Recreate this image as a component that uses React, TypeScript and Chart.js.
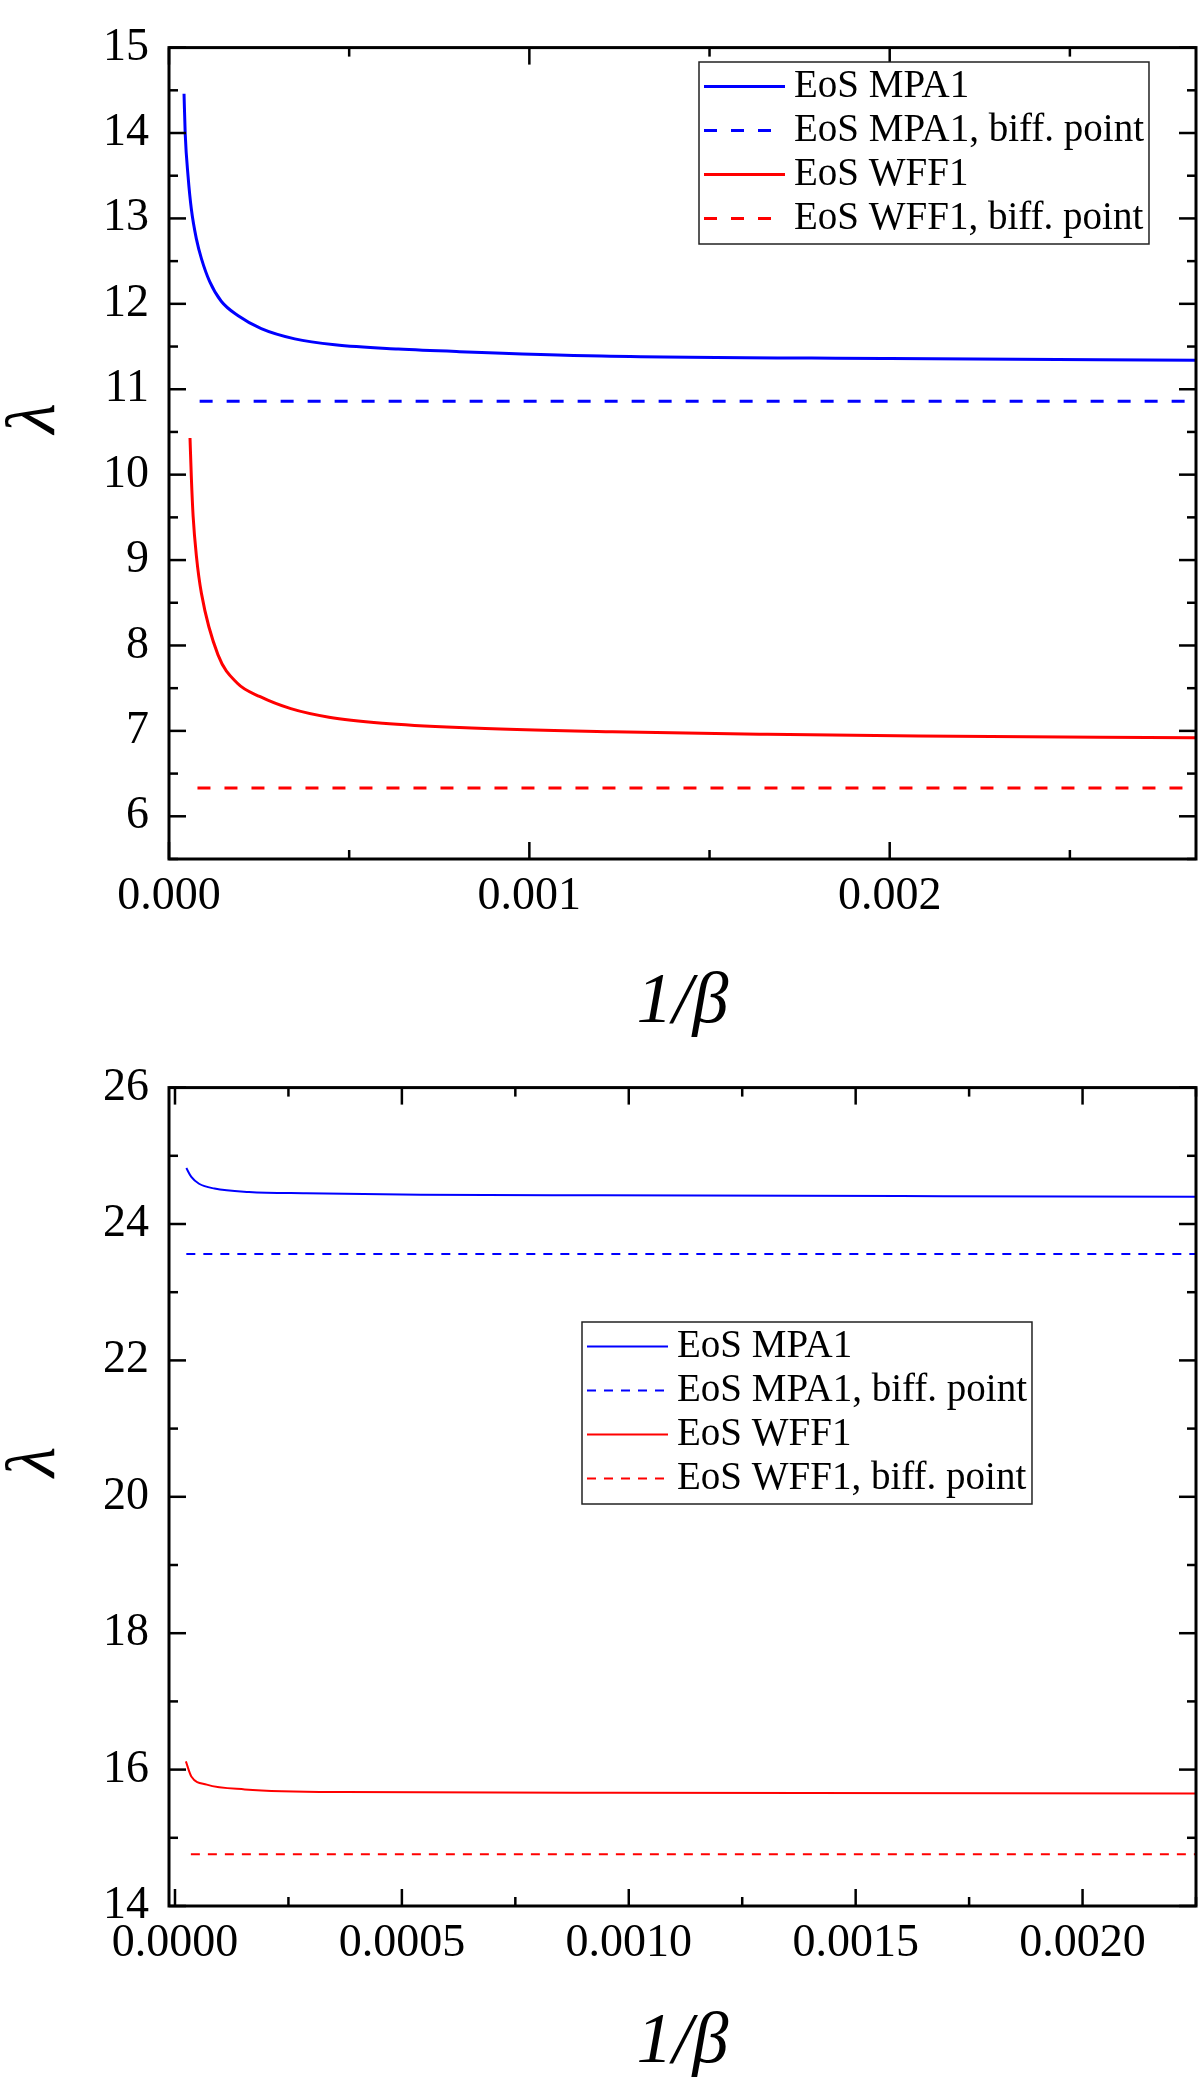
import { useEffect, useRef } from 'react';
import { Chart, registerables } from 'chart.js';

Chart.register(...registerables);

const SERIF = '"Liberation Serif", "Times New Roman", Times, serif';
const BLUE = '#0000ff';
const RED = '#ff0000';

const seriesLabels = ['EoS MPA1', 'EoS MPA1, biff. point', 'EoS WFF1', 'EoS WFF1, biff. point'];

// ---- upper panel ----
const topMpa1X = [0.0000417, 0.000045, 0.000053, 0.000062, 0.000076, 0.00009, 0.000113, 0.000145, 0.000192, 0.000256, 0.000349, 0.00046, 0.000636, 0.000806, 0.0012, 0.002, 0.00285];
const topMpa1Y = [14.46, 13.99, 13.49, 13.11, 12.76, 12.53, 12.26, 12.03, 11.86, 11.71, 11.59, 11.52, 11.47, 11.44, 11.39, 11.36, 11.34];
const topWff1X = [0.0000583, 0.000062, 0.000067, 0.000076, 0.00009, 0.000136, 0.000189, 0.000253, 0.000338, 0.000444, 0.000593, 0.000806, 0.00123, 0.00166, 0.00208, 0.00285];
const topWff1Y = [10.43, 9.97, 9.51, 9.05, 8.61, 7.89, 7.56, 7.4, 7.26, 7.16, 7.09, 7.04, 6.99, 6.96, 6.94, 6.92];
const topMpa1BiffX = [0.000085, 0.00285];
const topMpa1Biff = [10.86, 10.86];
const topWff1BiffX = [0.000079, 0.00285];
const topWff1Biff = [6.33, 6.33];
const topXTicks = [0, 0.001, 0.002];
const topYTicks = [6, 7, 8, 9, 10, 11, 12, 13, 14, 15];

// ---- lower panel ----
const lowMpa1X = [0.000025, 0.000036, 0.000053, 0.000087, 0.000163, 0.000289, 0.000542, 0.000936, 0.0016, 0.00225];
const lowMpa1Y = [24.82, 24.69, 24.59, 24.52, 24.47, 24.45, 24.43, 24.42, 24.41, 24.4];
const lowWff1X = [0.000024, 0.000036, 0.00007, 0.000154, 0.000373, 0.000963, 0.00225];
const lowWff1Y = [16.12, 15.9, 15.78, 15.71, 15.67, 15.66, 15.65];
const lowMpa1BiffX = [0.000025, 0.00225];
const lowMpa1Biff = [23.56, 23.56];
const lowWff1BiffX = [0.000035, 0.00225];
const lowWff1Biff = [14.76, 14.76];
const lowXTicks = [0, 0.0005, 0.001, 0.0015, 0.002];
const lowYTicks = [14, 16, 18, 20, 22, 24, 26];

const zip = (xs: number[], ys: number[]) => xs.map((x, i) => ({ x, y: ys[i] }));

// frame with inward ticks on all four sides
const framePlugin = {
  id: 'frame',
  afterDraw(chart: any, _args: any, opts: any) {
    const { ctx, chartArea: a } = chart;
    const xs = chart.scales.x;
    const ys = chart.scales.y;
    const seg = (x1: number, y1: number, x2: number, y2: number) => {
      ctx.beginPath();
      ctx.moveTo(x1, y1);
      ctx.lineTo(x2, y2);
      ctx.stroke();
    };
    const marks = (scale: any, step: number) => {
      const major = scale.ticks.map((t: any) => t.value);
      const out = major.map((v: number) => ({ v, len: opts.major }));
      for (let i = Math.ceil(scale.min / step - 1e-9); i * step <= scale.max + step * 1e-6; i++) {
        const v = i * step;
        if (!major.some((m: number) => Math.abs(m - v) < step * 1e-3)) out.push({ v, len: opts.minor });
      }
      return out;
    };
    ctx.save();
    ctx.strokeStyle = '#000';
    ctx.lineWidth = opts.tickWidth;
    for (const { v, len } of marks(xs, opts.xMinor)) {
      const p = xs.getPixelForValue(v);
      seg(p, a.bottom, p, a.bottom - len);
      seg(p, a.top, p, a.top + len);
    }
    for (const { v, len } of marks(ys, opts.yMinor)) {
      const p = ys.getPixelForValue(v);
      seg(a.left, p, a.left + len, p);
      seg(a.right, p, a.right - len, p);
    }
    ctx.lineWidth = opts.width;
    ctx.strokeRect(a.left, a.top, a.right - a.left, a.bottom - a.top);
    ctx.restore();
  },
};

// boxed legend drawn inside the plot
const boxLegendPlugin = {
  id: 'boxLegend',
  afterDraw(chart: any, _args: any, opts: any) {
    const { ctx } = chart;
    const sets = chart.data.datasets;
    ctx.save();
    ctx.font = `${opts.size}px ${SERIF}`;
    const textW = Math.max(...sets.map((d: any) => ctx.measureText(d.label).width));
    const w = opts.textX + textW + 5;
    const h = 2 * opts.firstRow + (sets.length - 1) * opts.rowGap + 1;
    ctx.fillStyle = '#fff';
    ctx.fillRect(opts.left, opts.top, w, h);
    ctx.strokeStyle = '#222';
    ctx.lineWidth = 1.5;
    ctx.strokeRect(opts.left, opts.top, w, h);
    sets.forEach((d: any, i: number) => {
      const y = opts.top + opts.firstRow + i * opts.rowGap;
      ctx.strokeStyle = d.borderColor;
      ctx.lineWidth = d.borderWidth;
      ctx.setLineDash(d.borderDash || []);
      ctx.beginPath();
      ctx.moveTo(opts.left + opts.sampleX, y);
      ctx.lineTo(opts.left + opts.sampleX + opts.sampleLen, y);
      ctx.stroke();
      ctx.setLineDash([]);
      ctx.fillStyle = '#000';
      ctx.textBaseline = 'middle';
      ctx.textAlign = 'left';
      ctx.fillText(d.label, opts.left + opts.textX, y);
    });
    ctx.restore();
  },
};

interface PanelProps {
  height: number;
  padTop: number;
  xAxisH: number;
  xMin: number;
  xMax: number;
  yMin: number;
  yMax: number;
  xTicks: number[];
  yTicks: number[];
  xMinor: number;
  yMinor: number;
  xDigits: number;
  lineWidth: number;
  dash: number[];
  titlePad: number;
  legendLeft: number;
  legendTop: number;
  curves: { x: number[]; y: number[] }[];
}

function Panel(p: PanelProps) {
  const canvasRef = useRef<HTMLCanvasElement>(null);

  useEffect(() => {
    if (!canvasRef.current) return;
    const colors = [BLUE, BLUE, RED, RED];
    const chart = new Chart(canvasRef.current, {
      type: 'line',
      data: {
        datasets: p.curves.map((c, i) => ({
          label: seriesLabels[i],
          data: zip(c.x, c.y),
          borderColor: colors[i],
          borderWidth: p.lineWidth,
          borderDash: i % 2 === 1 ? p.dash : [],
          pointRadius: 0,
          fill: false,
          cubicInterpolationMode: 'monotone' as const,
        })),
      },
      options: {
        animation: false,
        responsive: true,
        maintainAspectRatio: false,
        layout: { padding: { top: p.padTop, right: 4, left: 0, bottom: 0 } },
        plugins: {
          legend: { display: false },
          tooltip: { enabled: false },
          frame: { width: 3, tickWidth: 2.5, major: 17, minor: 9, xMinor: p.xMinor, yMinor: p.yMinor },
          boxLegend: {
            left: p.legendLeft,
            top: p.legendTop,
            size: 39,
            firstRow: 24.5,
            rowGap: 44,
            sampleX: 5,
            sampleLen: 81,
            textX: 95,
          },
        } as any,
        scales: {
          x: {
            type: 'linear',
            min: p.xMin,
            max: p.xMax,
            afterBuildTicks: (s: any) => {
              s.ticks = p.xTicks.map((v) => ({ value: v }));
            },
            afterFit: (s: any) => {
              s.height = p.xAxisH;
            },
            grid: { display: false, drawTicks: false },
            border: { display: false },
            ticks: {
              color: '#000',
              font: { family: SERIF, size: 46 },
              padding: 10,
              maxRotation: 0,
              autoSkip: false,
              callback: (v: any) => Number(v).toFixed(p.xDigits),
            },
            title: {
              display: true,
              text: '1/β',
              color: '#000',
              font: { family: SERIF, size: 72, style: 'italic', lineHeight: 1 },
              padding: { top: 0, bottom: p.titlePad },
            },
          },
          y: {
            type: 'linear',
            min: p.yMin,
            max: p.yMax,
            afterBuildTicks: (s: any) => {
              s.ticks = p.yTicks.map((v) => ({ value: v }));
            },
            afterFit: (s: any) => {
              s.width = 169;
            },
            grid: { display: false, drawTicks: false },
            border: { display: false },
            ticks: {
              color: '#000',
              font: { family: SERIF, size: 46 },
              padding: 20,
              autoSkip: false,
            },
            title: {
              display: true,
              text: '\u2003λ',
              color: '#000',
              font: { family: SERIF, size: 70, style: 'italic', lineHeight: 0.7 },
              padding: { top: 11, bottom: 0 },
            },
          },
        },
      },
      plugins: [framePlugin, boxLegendPlugin],
    });
    return () => chart.destroy();
  }, []);

  return (
    <div style={{ position: 'relative', width: 1200, height: p.height }}>
      <canvas ref={canvasRef} />
    </div>
  );
}

export default function App() {
  useEffect(() => {
    document.body.style.margin = '0';
    document.body.style.background = '#fff';
  }, []);

  return (
    <div style={{ width: 1200, background: '#fff' }}>
      <Panel
        height={1040}
        padTop={32}
        xAxisH={181}
        xMin={0}
        xMax={0.00285}
        yMin={5.5}
        yMax={15}
        xTicks={topXTicks}
        yTicks={topYTicks}
        xMinor={0.0005}
        yMinor={0.5}
        xDigits={3}
        lineWidth={3}
        dash={[13, 14]}
        titlePad={1}
        legendLeft={699}
        legendTop={62}
        curves={[
          { x: topMpa1X, y: topMpa1Y },
          { x: topMpa1BiffX, y: topMpa1Biff },
          { x: topWff1X, y: topWff1Y },
          { x: topWff1BiffX, y: topWff1Biff },
        ]}
      />
      <Panel
        height={1046}
        padTop={38}
        xAxisH={180}
        xMin={-0.0000132}
        xMax={0.00225}
        yMin={14}
        yMax={26}
        xTicks={lowXTicks}
        yTicks={lowYTicks}
        xMinor={0.00025}
        yMinor={1}
        xDigits={4}
        lineWidth={2}
        dash={[9, 8]}
        titlePad={7}
        legendLeft={582}
        legendTop={282}
        curves={[
          { x: lowMpa1X, y: lowMpa1Y },
          { x: lowMpa1BiffX, y: lowMpa1Biff },
          { x: lowWff1X, y: lowWff1Y },
          { x: lowWff1BiffX, y: lowWff1Biff },
        ]}
      />
    </div>
  );
}
